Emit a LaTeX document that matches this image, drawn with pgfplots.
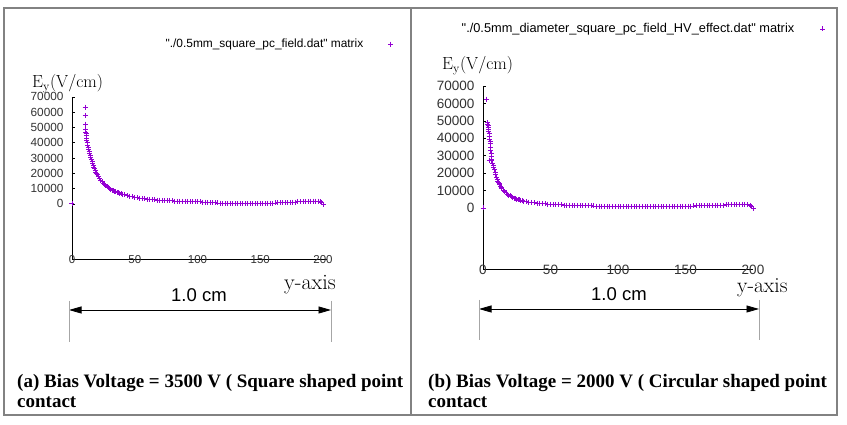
\documentclass[border=0pt]{standalone}
\usepackage{fontspec}
\usepackage{pgfplots}
\pgfplotsset{compat=1.18}
\usetikzlibrary{arrows.meta}
\newfontfamily\arial{Liberation Sans}
\newfontfamily\tnr{Liberation Serif}
\definecolor{gviolet}{RGB}{148,0,211}
\definecolor{framegray}{RGB}{130,130,130}
\pgfplotsset{
  gstyle/.style={
    scale only axis, clip=false,
    axis x line=bottom, axis y line=left,
    x axis line style={-}, y axis line style={-},
    axis line style={black, line width=0.6pt},
    xtick={0,50,100,150,200},
    ytick={0,10000,20000,30000,40000,50000,60000,70000},
    scaled y ticks=false, scaled x ticks=false,
    xtick style={draw=none},
    ytick style={black, line width=0.5pt},
    tick align=inside, major tick length=3pt,
    /pgf/number format/.cd, 1000 sep={}, assume math mode=true, /pgfplots/.cd,
    xticklabel style={anchor=center, yshift=-1pt, inner sep=0.5pt, text=black!80},
    yticklabel style={xshift=-5pt, text=black!80},
    legend plot pos=right,
    legend style={draw=none, fill=none, anchor=east},
  }
}
\begin{document}
\begin{tikzpicture}[x=1pt,y=1pt]
\fill[white] (0,0) rectangle (847,425);
\path[use as bounding box] (0,0) rectangle (847,425);
% frames
\draw[framegray, line width=1.2pt] (4,417) rectangle (411,10);
\draw[framegray, line width=1.2pt] (411,417) rectangle (837,10);

% ---------- left panel
\begin{axis}[gstyle,
  at={(72pt,166pt)}, anchor=south west,
  width=254.8pt, height=162.2pt,
  xmin=0, xmax=203, ymin=-36000, ymax=70000,
  xticklabel style={font=\arial\fontsize{11.5}{12}\selectfont},
  yticklabel style={font=\arial\fontsize{11.8}{12}\selectfont},
  legend style={at={(1.2734,1.3255)}, column sep=23pt, font=\arial\fontsize{11.9}{13}\selectfont},
]
\addplot[only marks, mark=+, mark size=2.5pt, color=gviolet, line width=0.9pt] coordinates {
(0,0) (10.5,63200) (10.5,57700) (10.6,52100) (10.8,48400) (11,47000) (11.2,45800) (11.4,44500) (11.6,43000) (11.8,41500) (12,40000) (12.4,38500) (12.8,37000) (13.2,35600) (13.6,34500) (14,33000) (14.5,31600) (15,30500) (15.5,29000) (16,27700) (16.5,26500) (17,25200) (17.5,24000) (18,22900) (18.5,21800) (19,20800) (19.5,20000) (20,19200) (21,17800) (22,16500) (23,15400) (24,14400) (25,13500) (26,12600) (27,11900) (28,11200) (29,10500) (30,9900) (31,9400) (32,8900) (33,8500) (34,8100) (35,7800) (36,7500) (37,7200) (38,6900) (39,6600) (40,6400) (42,5900) (44,5400) (46,5000) (48,4600) (50,4300) (52,4000) (54,3700) (56,3500) (58,3300) (60,3100) (62,2900) (64,2750) (66,2600) (68,2500) (70,2400) (72,2300) (74,2200) (76,2100) (78,2000) (80,1950) (82,1900) (84,1800) (86,1750) (88,1700) (90,1650) (92,1600) (94,1550) (96,1500) (98,1450) (100,1400) (102,1300) (104,1200) (106,1100) (108,1000) (110,900) (112,800) (114,700) (116,600) (118,500) (120,400) (122,350) (124,300) (126,250) (128,200) (130,150) (132,100) (134,50) (136,0) (138,0) (140,50) (142,100) (144,150) (146,200) (148,250) (150,300) (152,350) (154,400) (156,450) (158,500) (160,550) (162,600) (164,650) (166,700) (168,750) (170,800) (172,900) (174,1000) (176,1100) (178,1200) (180,1300) (182,1400) (184,1500) (186,1600) (188,1700) (190,1800) (192,1850) (194,1900) (196,1850) (198,1500) (199,900) (200,-300)
};
\addlegendentry{"./0.5mm\_square\_pc\_field.dat" matrix}
\end{axis}

% ---------- right panel
\begin{axis}[gstyle,
  at={(483pt,156pt)}, anchor=south west,
  width=270pt, height=183pt,
  xmin=0, xmax=200, ymin=-35000, ymax=70000,
  xticklabel style={font=\arial\fontsize{13.5}{14}\selectfont, yshift=0.5pt},
  yticklabel style={font=\arial\fontsize{13.5}{14}\selectfont},
  legend style={at={(1.2796,1.3115)}, column sep=24pt, font=\arial\fontsize{12.8}{14}\selectfont},
]
\addplot[only marks, mark=+, mark size=2.5pt, color=gviolet, line width=0.9pt] coordinates {
(0,0) (2.7,62400) (3.5,49000) (3.6,48000) (3.8,47200) (4,46300) (4.2,45000) (4.4,44000) (4.5,27500) (4.6,42500) (4.8,41000) (5,39500) (5.2,38000) (5.4,37200) (5.6,35000) (5.8,33000) (6,31500) (6,29500) (6.1,27800) (6.5,27000) (7,25500) (7.5,24200) (8,23000) (8.5,22000) (9,20500) (9.5,19000) (10,17500) (10.5,16500) (11,15500) (11.5,14800) (12,14000) (12.5,13300) (13,12500) (13.5,11800) (14,11200) (15,10300) (16,9400) (17,8700) (18,8000) (19,7400) (20,6900) (21,6500) (22,6100) (23,5700) (24,5400) (25,5100) (26,4800) (27,4600) (28,4400) (29,4200) (30,4000) (32,3700) (34,3400) (36,3200) (38,3000) (40,2800) (42,2650) (44,2500) (46,2350) (48,2200) (50,2100) (52,2000) (54,1900) (56,1850) (58,1800) (60,1700) (62,1650) (64,1600) (66,1550) (68,1500) (70,1450) (72,1400) (74,1350) (76,1300) (78,1250) (80,1200) (82,1150) (84,1100) (86,1050) (88,1000) (90,950) (92,900) (94,850) (96,800) (98,780) (100,760) (102,750) (104,750) (106,740) (108,740) (110,730) (112,730) (114,730) (116,730) (118,730) (120,740) (122,740) (124,740) (126,750) (128,750) (130,760) (132,760) (134,770) (136,780) (138,790) (140,800) (142,830) (144,860) (146,900) (148,950) (150,1000) (152,1050) (154,1100) (156,1150) (158,1200) (160,1250) (162,1300) (164,1350) (166,1400) (168,1450) (170,1500) (172,1550) (174,1600) (176,1650) (178,1700) (180,1750) (182,1800) (184,1850) (186,1900) (188,1950) (190,2000) (192,2050) (194,2100) (196,2000) (198,1500) (199,800) (200,-300)
};
\addlegendentry{"./0.5mm\_diameter\_square\_pc\_field\_HV\_effect.dat" matrix}
\end{axis}

% ---------- annotations left
\node[anchor=base west, inner sep=0pt, font=\fontsize{17.5}{18}\selectfont] at (32,337.5) {E\textsubscript{y}(V/cm)};
\node[anchor=base west, inner sep=0pt, font=\fontsize{22}{24}\selectfont] at (284,135) {y-axis};
\node[anchor=base west, inner sep=0pt, font=\arial\fontsize{18.5}{20}\selectfont] at (171,123) {1.0 cm};
\draw[black, line width=0.8pt, {Triangle[length=12.5pt,width=7pt]}-{Triangle[length=12.5pt,width=7pt]}] (69,115) -- (331,115);
\draw[black!35, line width=0.7pt] (69,124) -- (69,83) (331,124) -- (331,83);
\node[anchor=base west, inner sep=0pt, font=\tnr\bfseries\fontsize{19}{20}\selectfont] at (17,37) {(a) Bias Voltage = 3500 V ( Square shaped point};
\node[anchor=base west, inner sep=0pt, font=\tnr\bfseries\fontsize{19}{20}\selectfont] at (17,17) {contact};

% ---------- annotations right
\node[anchor=base west, inner sep=0pt, font=\fontsize{21.5}{24}\selectfont] at (442,355.5) {\fontsize{17.5}{18}\selectfont E\textsubscript{y}(V/cm)};
\node[anchor=base west, inner sep=0pt, font=\fontsize{21.5}{24}\selectfont] at (737,132.5) {y-axis};
\node[anchor=base west, inner sep=0pt, font=\arial\fontsize{18.5}{20}\selectfont] at (591,124) {1.0 cm};
\draw[black, line width=0.8pt, {Triangle[length=12.5pt,width=7pt]}-{Triangle[length=12.5pt,width=7pt]}] (479,116) -- (759,116);
\draw[black!35, line width=0.7pt] (479,125) -- (479,85) (759,125) -- (759,85);
\node[anchor=base west, inner sep=0pt, font=\tnr\bfseries\fontsize{19}{20}\selectfont] at (428,37) {(b) Bias Voltage = 2000 V ( Circular shaped point};
\node[anchor=base west, inner sep=0pt, font=\tnr\bfseries\fontsize{19}{20}\selectfont] at (428,17) {contact};
\end{tikzpicture}
\end{document}
